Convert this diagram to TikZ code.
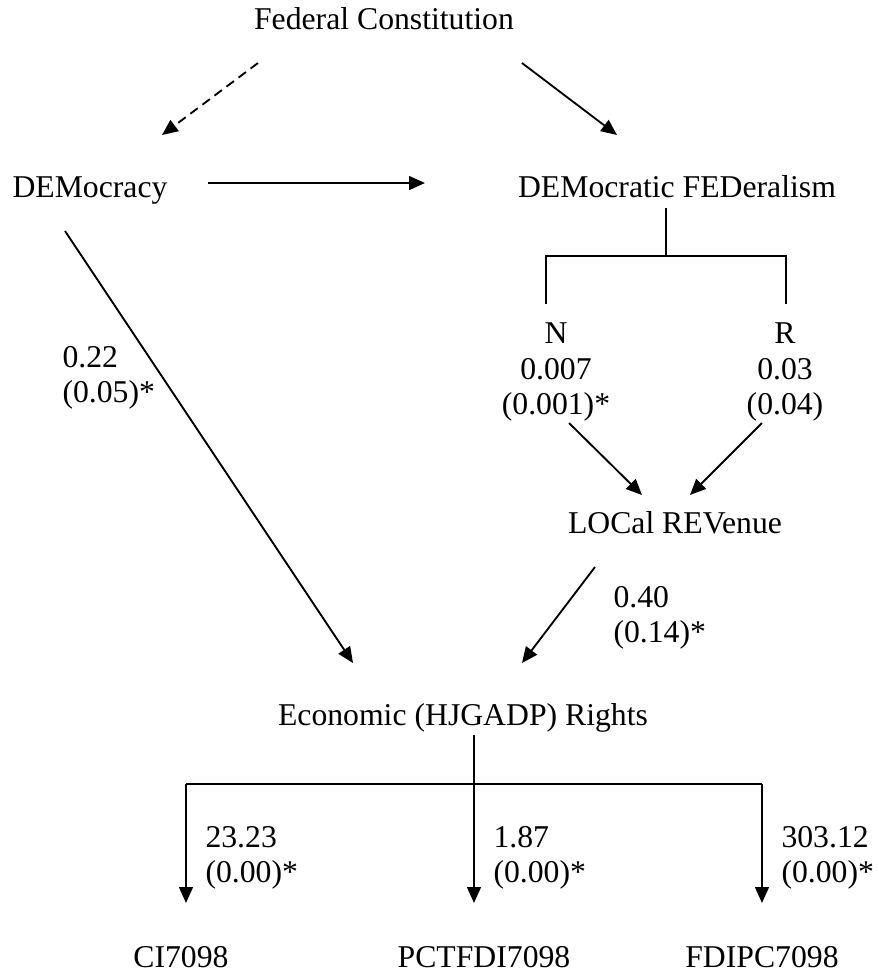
\documentclass[tikz,border=0pt]{standalone}
\usepackage{fontspec}
\setmainfont{Liberation Serif}
\usetikzlibrary{arrows.meta}
\begin{document}
\begin{tikzpicture}[x=0.3785pt,y=-0.3785pt,
  lbl/.style={anchor=base,inner sep=0pt,align=center,font=\fontsize{12}{13.25}\selectfont},
  est/.style={lbl,anchor=base west,align=left},
  arr/.style={line width=0.7pt,-{Triangle[length=6pt,width=5.2pt]}},
  tree/.style={line width=0.7pt}]
\useasboundingbox (0,0) rectangle (878,974);
% variables (base = last line)
\node[lbl] (fc) at (384,29) {Federal Constitution};
\node[lbl] (dem) at (90,197) {DEMocracy};
\node[lbl] (demfed) at (677,197) {DEMocratic FEDeralism};
\node[lbl] (nbl) at (556,414) {N\\0.007\\(0.001)*};
\node[lbl] (rbl) at (785,414) {R\\0.03\\(0.04)};
\node[lbl] (loc) at (675,533) {LOCal REVenue};
\node[lbl] (econ) at (463,725) {Economic (HJGADP) Rights};
% estimates
\node[est] (demest) at (62,402) {0.22\\(0.05)*};
\node[est] (locest) at (613,642) {0.40\\(0.14)*};
% arrow ends
\coordinate (fc-l) at (258,63); \coordinate (dem-in) at (162,135);
\coordinate (fc-r) at (522,63); \coordinate (demfed-in) at (617,135);
\coordinate (dem-r) at (208,183); \coordinate (demfed-l) at (425,183);
\coordinate (dem-d) at (65,231); \coordinate (econ-l) at (353,663);
\coordinate (nbl-d) at (569,423); \coordinate (loc-l) at (642,495);
\coordinate (rbl-d) at (762,423); \coordinate (loc-r) at (690,495);
\coordinate (loc-d) at (595,567); \coordinate (econ-r) at (522,663);
\draw[arr,dash pattern=on 3.5pt off 2.2pt] (fc-l) -- (dem-in);
\draw[arr] (fc-r) -- (demfed-in);
\draw[arr] (dem-r) -- (demfed-l);
\draw[arr] (dem-d) -- (econ-l);
\draw[arr] (nbl-d) -- (loc-l);
\draw[arr] (rbl-d) -- (loc-r);
\draw[arr] (loc-d) -- (econ-r);
% federalism split
\coordinate (fed-top) at (666,208); \coordinate (fed-j) at (666,256);
\draw[tree] (fed-top) -- (fed-j);
\draw[tree] (546,304) |- (fed-j) -| (786,304);
% outcomes
\coordinate (econ-top) at (474,735); \coordinate (econ-j) at (474,784);
\draw[tree] (econ-top) -- (econ-j);
\draw[tree] (186,784) -- (762,784);
\foreach \x/\c/\e/\n/\t in {186/181/23.23/ci/CI7098,474/484/1.87/pct/PCTFDI7098,762/762/303.12/fdi/FDIPC7098}{
  \coordinate (\n-j) at (\x,784);
  \coordinate (\n-in) at (\x,903);
  \draw[arr] (\n-j) -- (\n-in);
  \node[est] (\n est) at (\x+19,882) {\e\\(0.00)*};
  \node[lbl] (\n) at (\c,967) {\t};
}
\end{tikzpicture}
\end{document}
